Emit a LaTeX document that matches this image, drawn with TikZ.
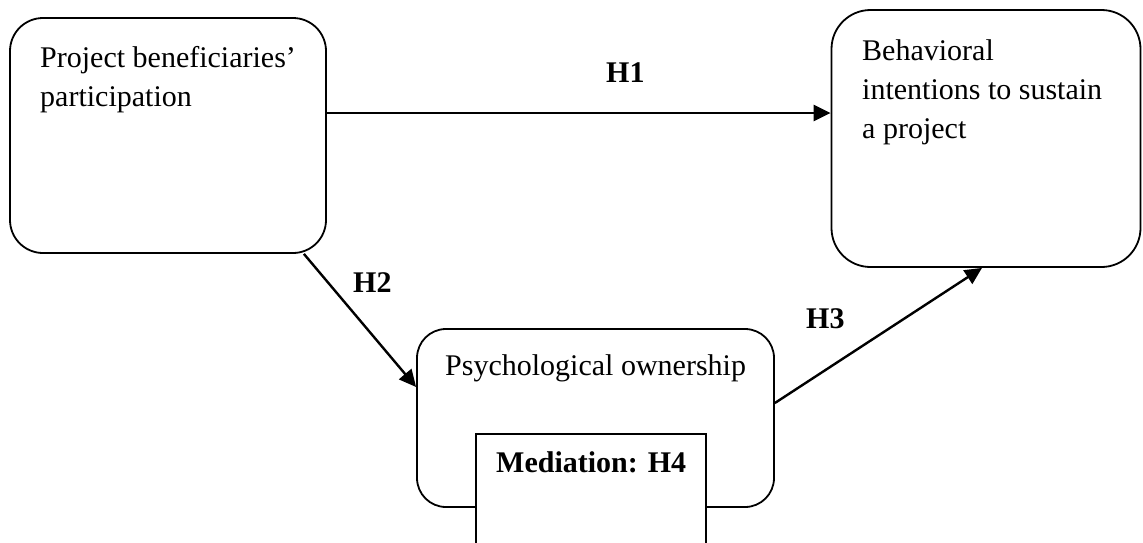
\documentclass[tikz,border=0pt]{standalone}
\usepackage{fontspec}
\setmainfont{Liberation Serif}
\usetikzlibrary{arrows.meta}

\tikzset{
  box/.style={draw, line width=1.8pt, rounded corners=#1, inner sep=0pt, fill=white},
  medbox/.style={draw, line width=1.8pt, inner sep=0pt, fill=white},
  txt/.style={inner sep=0pt, anchor=base west, font=\fontsize{30}{39}\selectfont},
  hyp/.style={inner sep=0pt, anchor=base west, font=\fontsize{30}{39}\selectfont\bfseries},
  arr/.style={line width=2.4pt, -{Triangle[length=17pt,width=16pt]}}
}

\begin{document}
\begin{tikzpicture}[x=1pt, y=-1pt]
\useasboundingbox (0,0) rectangle (1143,542);
\begin{scope}
\clip (0,0) rectangle (1143,542);

% construct boxes
\node[box=33pt, minimum width=316pt, minimum height=235pt] (pb) at (168,135.5) {};
\node[box=39pt, minimum width=309pt, minimum height=257pt] (bi) at (986,138.5) {};
\node[box=29pt, minimum width=357pt, minimum height=178pt] (po) at (595.5,418) {};
% mediation box runs past the lower edge
\node[medbox, minimum width=230pt, minimum height=140pt] (med) at (591,504) {};

% box texts
\node[txt] (pbt) at (40,67) {\begin{tabular}[t]{@{}l@{}}Project beneficiaries’\\participation\end{tabular}};
\node[txt] (bit) at (862,60) {\begin{tabular}[t]{@{}l@{}}Behavioral\\intentions to sustain\\a project\end{tabular}};
\node[txt] (pot) at (445,375) {Psychological ownership};
\node[hyp] (medt) at (496,472) {Mediation: H4};

% hypothesised paths
\draw[arr] (pb.east |- 0,113) -- (bi.west |- 0,113);
\draw[arr] ([xshift=-23pt]pb.south east) -- (po.west |- 0,387);
\draw[arr] (po.east |- 0,403) -- ([xshift=-4pt]bi.south);

% path labels
\node[hyp] (h1) at (606,82) {H1};
\node[hyp] (h2) at (353,292) {H2};
\node[hyp] (h3) at (806,328) {H3};
\end{scope}
\end{tikzpicture}
\end{document}
